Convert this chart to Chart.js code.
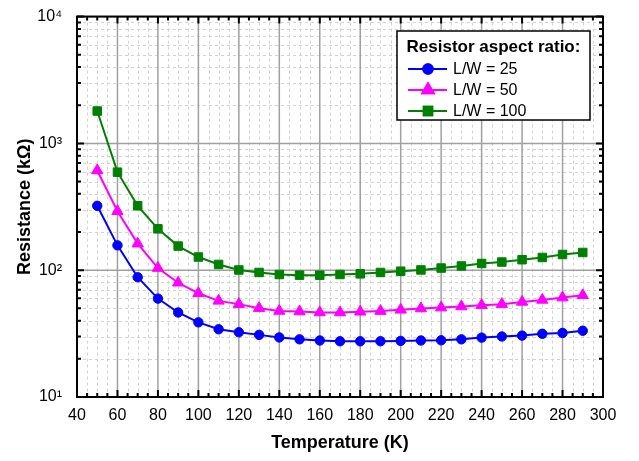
<!DOCTYPE html>
<html>
<head>
<meta charset="utf-8">
<script src="https://cdn.jsdelivr.net/npm/chart.js@4/dist/chart.umd.min.js"></script>
<style>
    html, body { margin: 0; padding: 0; background: #fff; }
</style>
</head>
<body>
<canvas id="resistance-chart" width="639" height="461"></canvas>
<script>
// data (kOhm)
var temps = [50, 60, 70, 80, 90, 100, 110, 120, 130, 140, 150, 160, 170, 180, 190, 200, 210, 220, 230, 240, 250, 260, 270, 280, 290];
var rLW25 = [322, 157, 88, 59.7, 46.4, 38.8, 34.2, 32.4, 30.9, 29.5, 28.5, 27.9, 27.5, 27.5, 27.5, 27.7, 27.9, 28.0, 28.5, 29.4, 30.0, 30.5, 31.5, 32.0, 33.3];
var rLW50 = [612, 292, 162, 104, 79.6, 65.8, 57.3, 54, 50.2, 47.7, 47.2, 46.4, 46.4, 47, 47.6, 48.7, 49.9, 50.7, 51.7, 53, 54, 56.2, 58.3, 60.8, 63.4];
var rLW100 = [1800, 593, 322, 212, 155, 127, 111, 100.4, 96, 92.5, 91.4, 91.4, 92.5, 93.6, 96, 98.2, 100.5, 104, 108, 113, 116, 121, 126, 133, 138];
var seriesLabels = ["L/W = 25", "L/W = 50", "L/W = 100"];
var xTicks = [40, 60, 80, 100, 120, 140, 160, 180, 200, 220, 240, 260, 280, 300];
var yTicks = [10, 100, 1000, 10000];
var sup = { 1: "\u00B9", 2: "\u00B2", 3: "\u00B3", 4: "\u2074" };

var FONT = "'Liberation Sans', Arial, sans-serif";

function pts(ys) {
    return temps.map(function (t, i) { return { x: t, y: ys[i] }; });
}

// grid, inward ticks and frame like the origin style plot
var framePlugin = {
    id: 'frame',
    beforeDatasetsDraw: function (chart) {
        var ctx = chart.ctx, a = chart.chartArea;
        var xs = chart.scales.x, ys = chart.scales.y;
        var v, d, m, px, py;
        ctx.save();
        // minor dashed
        ctx.strokeStyle = '#d2d2d2';
        ctx.lineWidth = 1;
        ctx.setLineDash([3, 3]);
        ctx.beginPath();
        for (v = 45; v < 300; v += 5) {
            if (v % 20 === 0) continue;
            px = Math.round(xs.getPixelForValue(v)) + 0.5;
            ctx.moveTo(px, a.top); ctx.lineTo(px, a.bottom);
        }
        for (d = 10; d < 10000; d *= 10) {
            for (m = 2; m <= 9; m++) {
                py = Math.round(ys.getPixelForValue(d * m)) + 0.5;
                ctx.moveTo(a.left, py); ctx.lineTo(a.right, py);
            }
        }
        ctx.stroke();
        // major solid
        ctx.setLineDash([]);
        ctx.strokeStyle = '#a0a0a0';
        ctx.lineWidth = 1.5;
        ctx.beginPath();
        xTicks.forEach(function (t) {
            px = xs.getPixelForValue(t);
            ctx.moveTo(px, a.top); ctx.lineTo(px, a.bottom);
        });
        yTicks.forEach(function (t) {
            py = ys.getPixelForValue(t);
            ctx.moveTo(a.left, py); ctx.lineTo(a.right, py);
        });
        ctx.stroke();
        ctx.restore();
    },
    afterDraw: function (chart) {
        var ctx = chart.ctx, a = chart.chartArea;
        var xs = chart.scales.x, ys = chart.scales.y;
        var v, d, m, px, py, len;
        ctx.save();
        ctx.strokeStyle = '#000';
        ctx.lineWidth = 2;
        ctx.beginPath();
        for (v = 40; v <= 300; v += 5) {
            len = v % 20 === 0 ? 7 : 4;
            px = xs.getPixelForValue(v);
            ctx.moveTo(px, a.bottom); ctx.lineTo(px, a.bottom - len);
            ctx.moveTo(px, a.top); ctx.lineTo(px, a.top + len);
        }
        for (d = 10; d <= 10000; d *= 10) {
            for (m = 1; m <= 9; m++) {
                if (d * m > 10000) break;
                len = m === 1 ? 7 : 4;
                py = ys.getPixelForValue(d * m);
                ctx.moveTo(a.left, py); ctx.lineTo(a.left + len, py);
                ctx.moveTo(a.right, py); ctx.lineTo(a.right - len, py);
            }
        }
        ctx.stroke();
        ctx.strokeRect(a.left, a.top, a.right - a.left, a.bottom - a.top);

        // legend box
        var bx = 397, by = 31, bw = 193, bh = 89;
        ctx.fillStyle = '#fff';
        ctx.fillRect(bx, by, bw, bh);
        ctx.lineWidth = 1.5;
        ctx.strokeRect(bx, by, bw, bh);
        ctx.fillStyle = '#000';
        ctx.textAlign = 'center';
        ctx.textBaseline = 'middle';
        ctx.font = 'bold 17px ' + FONT;
        ctx.fillText('Resistor aspect ratio:', bx + bw / 2, by + 16);
        ctx.textAlign = 'left';
        ctx.font = '16px ' + FONT;
        chart.data.datasets.forEach(function (ds, i) {
            var ry = by + 38 + i * 21;
            ctx.strokeStyle = ds.borderColor;
            ctx.lineWidth = 2;
            ctx.beginPath();
            ctx.moveTo(bx + 11, ry); ctx.lineTo(bx + 50, ry);
            ctx.stroke();
            ctx.fillStyle = ds.backgroundColor;
            Chart.helpers.drawPoint(ctx, {
                pointStyle: ds.pointStyle,
                radius: ds.pointRadius,
                borderWidth: 1,
                rotation: 0
            }, bx + 31, ry);
            ctx.fill();
            ctx.stroke();
            ctx.fillStyle = '#000';
            ctx.fillText(ds.label, bx + 56, ry + 1);
        });
        ctx.restore();
    }
};

function draw() {
    new Chart(document.getElementById('resistance-chart'), {
        type: 'line',
        data: {
            datasets: [
                {
                    label: seriesLabels[0],
                    data: pts(rLW25),
                    borderColor: '#0000ff',
                    backgroundColor: '#0000ff',
                    borderWidth: 2,
                    pointStyle: 'circle',
                    pointRadius: 4.7,
                    pointBorderWidth: 1
                },
                {
                    label: seriesLabels[1],
                    data: pts(rLW50),
                    borderColor: '#ff00ff',
                    backgroundColor: '#ff00ff',
                    borderWidth: 2,
                    pointStyle: 'triangle',
                    pointRadius: 6.5,
                    pointBorderWidth: 1
                },
                {
                    label: seriesLabels[2],
                    data: pts(rLW100),
                    borderColor: '#008000',
                    backgroundColor: '#008000',
                    borderWidth: 2,
                    pointStyle: 'rect',
                    pointRadius: 6,
                    pointBorderWidth: 1
                }
            ]
        },
        options: {
            responsive: false,
            animation: false,
            layout: { padding: { top: 13, right: 36, left: 0, bottom: 0 } },
            plugins: {
                legend: { display: false },
                tooltip: { enabled: false }
            },
            scales: {
                x: {
                    type: 'linear',
                    min: 40,
                    max: 300,
                    afterBuildTicks: function (s) {
                        s.ticks = xTicks.map(function (v) { return { value: v }; });
                    },
                    afterFit: function (s) { s.height = 64; },
                    grid: { display: false },
                    border: { display: false },
                    ticks: {
                        color: '#000',
                        font: { family: FONT, size: 16 },
                        padding: 1,
                        maxRotation: 0,
                        autoSkip: false
                    },
                    title: {
                        display: true,
                        text: 'Temperature (K)',
                        color: '#000',
                        font: { family: FONT, size: 18, weight: 'bold' },
                        padding: { top: 0, bottom: 7 }
                    }
                },
                y: {
                    type: 'logarithmic',
                    min: 10,
                    max: 10000,
                    afterBuildTicks: function (s) {
                        s.ticks = yTicks.map(function (v) { return { value: v }; });
                    },
                    afterFit: function (s) { s.width = 77; },
                    grid: { display: false },
                    border: { display: false },
                    ticks: {
                        color: '#000',
                        font: { family: FONT, size: 16 },
                        padding: 7,
                        autoSkip: false,
                        callback: function (v) {
                            return '10' + sup[Math.round(Math.log10(v))];
                        }
                    },
                    title: {
                        display: true,
                        text: 'Resistance (k\u03A9)',
                        color: '#000',
                        font: { family: FONT, size: 18, weight: 'bold' },
                        padding: { top: 14, bottom: 0 }
                    }
                }
            }
        },
        plugins: [framePlugin]
    });
}

draw();
</script>
</body>
</html>
